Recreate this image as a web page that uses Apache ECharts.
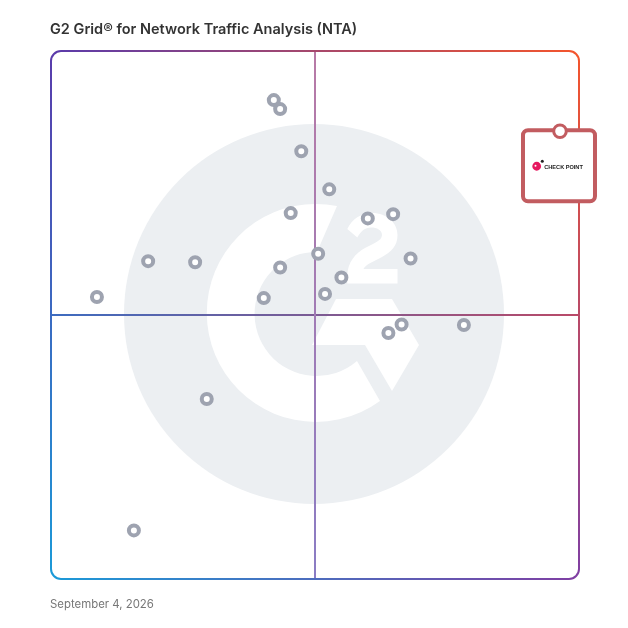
<!DOCTYPE html>
<html>
<head>
<meta charset="utf-8">
<style>html,body{margin:0;padding:0;background:#fff}#main{width:628px;height:628px}</style>
<script src="https://cdn.jsdelivr.net/npm/echarts@6/dist/echarts.min.js"></script>
</head>
<body>
<div id="main"></div>
<script>
// satisfaction (x) / market presence (y), 0-100 on each side
var productX = [42.2, 43.4, 47.4, 52.7, 45.4, 60.0, 64.8, 50.6, 68.1, 43.4, 18.4, 27.3, 55.0, 51.9, 40.3, 8.7, 66.4, 63.9, 78.2, 29.5, 15.7];
var productY = [90.7, 89.0, 81.0, 73.8, 69.3, 68.3, 69.1, 61.6, 60.7, 59.0, 60.2, 60.0, 57.1, 54.0, 53.2, 53.4, 48.2, 46.6, 48.1, 34.1, 9.2];
var featuredName = 'CHECK POINT';
var featuredX = [96.4];
var featuredY = [84.8];

var chartTitle = 'G2 Grid\u00ae for Network Traffic Analysis (NTA)';
var chartDate = 'September 4, 2026';

var L = 51, R = 579, T = 51, B = 579, MID = 315, RAD = 10;

var myChart = echarts.init(document.getElementById('main'));

function grad(x, y, x2, y2, c1, c2) {
    return new echarts.graphic.LinearGradient(x, y, x2, y2, [
        {offset: 0, color: c1}, {offset: 1, color: c2}
    ], true);
}

var cTL = '#5a3bab', cTR = '#f4552c', cBR = '#7f3fa3', cBL = '#1b9ad8';

function whitePath(d) {
    return {type: 'path', shape: {pathData: d}, style: {fill: '#fff'}};
}

function edge(d, stroke) {
    return {type: 'path', shape: {pathData: d}, style: {fill: 'none', stroke: stroke, lineWidth: 2}};
}

// G2 watermark, quadrant lines and the rounded frame
function renderBackdrop() {
    var arc = 'A' + RAD + ',' + RAD + ' 0 0 1 ';
    return {
        type: 'group',
        children: [
            {type: 'circle', shape: {cx: 314, cy: 314, r: 190}, style: {fill: '#eceff2'}},
            whitePath('M337,206 A109,109 0 1 0 380,401 L357,361 A62,62 0 1 1 317,252 Z'),
            whitePath('M347.3,229 C352,219 361,213 372,213 C387,213 397.5,223 397.5,235 C397.5,246 391,252 382,257 C373,262 366,264 363.5,269 L397.5,269 L397.5,283.5 L347.3,283.5 L347.3,276 C347.3,262 356,253 365,248 C373,243.5 382,241 382,235 C382,230 377,227.5 371,227.5 C365,227.5 361,231 357.3,237.5 Z'),
            whitePath('M336,299 L392,299 L419,345 L392,391 L365,345 L312,345 Z'),
            {type: 'line', shape: {x1: L, y1: MID, x2: R, y2: MID},
             style: {lineWidth: 2, stroke: grad(L, 0, R, 0, '#3d6cc0', '#ba4a68')}},
            {type: 'line', shape: {x1: MID, y1: T, x2: MID, y2: B},
             style: {lineWidth: 2, stroke: grad(0, T, 0, B, '#b87aa6', '#8a7cc4')}},
            edge('M' + L + ',' + (B - RAD) + ' L' + L + ',' + (T + RAD), grad(0, T, 0, B, cTL, cBL)),
            edge('M' + (R - RAD) + ',' + B + ' L' + (L + RAD) + ',' + B + ' ' + arc + L + ',' + (B - RAD), grad(L, 0, R, 0, cBL, cBR)),
            edge('M' + R + ',' + (T + RAD) + ' L' + R + ',' + (B - RAD) + ' ' + arc + (R - RAD) + ',' + B, grad(0, T, 0, B, cTR, cBR)),
            edge('M' + L + ',' + (T + RAD) + ' ' + arc + (L + RAD) + ',' + T + ' L' + (R - RAD) + ',' + T + ' ' + arc + R + ',' + (T + RAD), grad(L, 0, R, 0, cTL, cTR))
        ]
    };
}

function renderFeatured(params, api) {
    var p = api.coord([api.value(0), api.value(1)]);
    var x = p[0], y = p[1];
    return {
        type: 'group',
        children: [
            {type: 'rect', shape: {x: x - 37, y: y - 1, width: 72, height: 71, r: 5},
             style: {fill: '#fff', stroke: '#c25c60', lineWidth: 4}},
            {type: 'circle', shape: {cx: x, cy: y, r: 6.3}, style: {fill: '#fff', stroke: '#c25c60', lineWidth: 3}},
            {type: 'circle', shape: {cx: x - 23.3, cy: y + 35, r: 4.4}, style: {fill: '#e6185f'}},
            {type: 'circle', shape: {cx: x - 24.5, cy: y + 34.5, r: 1}, style: {fill: '#fff'}},
            {type: 'circle', shape: {cx: x - 17.7, cy: y + 30, r: 1.5}, style: {fill: '#222'}},
            {type: 'text', x: x - 15.7, y: y + 36,
             style: {text: featuredName, fill: '#222', font: 'bold 5.6px "Liberation Sans"', align: 'left', verticalAlign: 'middle'}}
        ]
    };
}

var option = {
    animation: false,
    backgroundColor: '#fff',
    title: [
        {text: chartTitle, left: 45, top: 17.5, textStyle: {fontFamily: 'Inter', fontSize: 14.5, fontWeight: 600, color: '#333'}},
        {text: chartDate, left: 45, top: 594, textStyle: {fontFamily: 'Inter', fontSize: 11.4, fontWeight: 400, color: '#777'}}
    ],
    grid: {left: L, right: 628 - R, top: T, bottom: 628 - B},
    xAxis: {type: 'value', min: 0, max: 100, show: false},
    yAxis: {type: 'value', min: 0, max: 100, show: false},
    series: [
        {
            type: 'custom',
            z: 1,
            clip: false,
            silent: true,
            renderItem: renderBackdrop,
            data: [[0, 0]]
        },
        {
            type: 'scatter',
            z: 3,
            symbol: 'circle',
            symbolSize: 10,
            itemStyle: {color: '#fff', borderColor: '#9ea3b0', borderWidth: 4, opacity: 1},
            data: productX.map(function (x, i) { return [x, productY[i]]; })
        },
        {
            type: 'custom',
            z: 4,
            clip: false,
            renderItem: renderFeatured,
            data: featuredX.map(function (x, i) { return [x, featuredY[i]]; })
        }
    ]
};
myChart.setOption(option);
</script>
</body>
</html>
